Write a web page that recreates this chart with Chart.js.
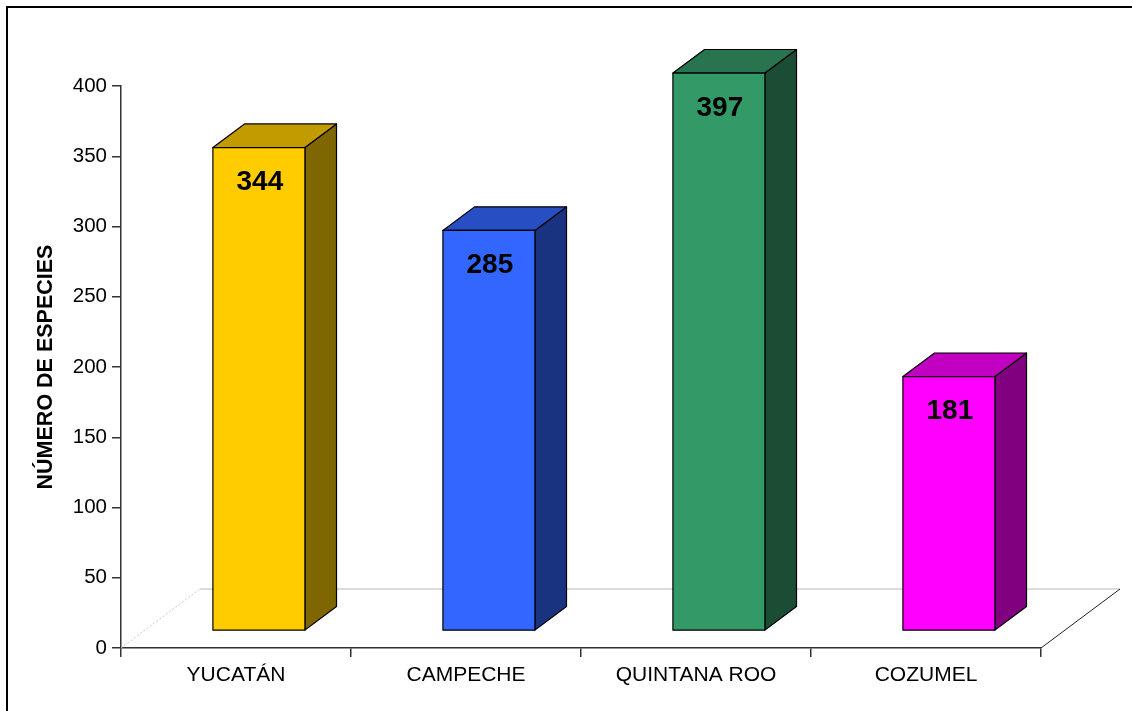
<!DOCTYPE html>
<html><head><meta charset="utf-8">
<script src="https://cdn.jsdelivr.net/npm/chart.js@4.4.1/dist/chart.umd.min.js"></script>
<style>html,body{margin:0;padding:0;background:#fff;}#wrap{width:1132px;height:711px;position:relative;}</style>
</head><body><div id="wrap"><canvas id="c" width="1132" height="711"></canvas></div>
<script>
const categories = ['YUCATÁN', 'CAMPECHE', 'QUINTANA ROO', 'COZUMEL'];
const especies = [344, 285, 397, 181];
const yTicks = [0, 50, 100, 150, 200, 250, 300, 350, 400];
const barColors = ['#FFCC00', '#3366FF', '#339966', '#FF00FF'];
const axisTitle = 'NÚMERO DE ESPECIES';

const FONT = "'Liberation Sans', Arial, sans-serif";
const FLOOR_DX = 79, FLOOR_DY = 59;
const BAR_FRONT = 0.29, BAR_BACK = 0.69;
const LABEL_OFFSET = 35;

function shade(hex, f) {
  const n = parseInt(hex.slice(1), 16);
  const r = Math.round(((n >> 16) & 255) * f), g = Math.round(((n >> 8) & 255) * f), b = Math.round((n & 255) * f);
  return `rgb(${r},${g},${b})`;
}

const bar3d = {
  id: 'bar3d',
  beforeDraw(chart) {
    const ctx = chart.ctx;
    ctx.save();
    ctx.fillStyle = '#fff';
    ctx.fillRect(0, 0, chart.width, chart.height);
    ctx.strokeStyle = '#000';
    ctx.lineWidth = 2;
    ctx.strokeRect(7, 7, chart.width + 20, chart.height + 20);
    ctx.restore();
  },
  beforeDatasetsDraw(chart) {
    const ctx = chart.ctx, a = chart.chartArea;
    const y0 = chart.scales.y.getPixelForValue(0);
    ctx.save();
    ctx.strokeStyle = '#d0d0d0'; ctx.lineWidth = 1.5;
    ctx.beginPath(); ctx.moveTo(a.left + FLOOR_DX, y0 - FLOOR_DY); ctx.lineTo(a.right + FLOOR_DX, y0 - FLOOR_DY); ctx.stroke();
    ctx.strokeStyle = '#c8c8c8'; ctx.lineWidth = 1; ctx.setLineDash([2, 2]);
    ctx.beginPath(); ctx.moveTo(a.left, y0); ctx.lineTo(a.left + FLOOR_DX, y0 - FLOOR_DY); ctx.stroke();
    ctx.setLineDash([]);
    ctx.strokeStyle = '#222'; ctx.lineWidth = 1;
    ctx.beginPath(); ctx.moveTo(a.right, y0); ctx.lineTo(a.right + FLOOR_DX, y0 - FLOOR_DY); ctx.stroke();
    ctx.restore();
  },
  afterDatasetsDraw(chart) {
    const ctx = chart.ctx;
    const meta = chart.getDatasetMeta(0);
    const ddx = FLOOR_DX * (BAR_BACK - BAR_FRONT), ddy = FLOOR_DY * (BAR_BACK - BAR_FRONT);
    ctx.save();
    ctx.lineWidth = 1.2; ctx.strokeStyle = '#000'; ctx.lineJoin = 'round';
    meta.data.forEach((bar, i) => {
      const w = bar.width;
      const L = bar.x - w / 2 + FLOOR_DX * BAR_FRONT;
      const R = L + w;
      const B = bar.base - FLOOR_DY * BAR_FRONT;
      const T = bar.y - FLOOR_DY * BAR_FRONT;
      const col = barColors[i];
      ctx.fillStyle = shade(col, 0.5);
      ctx.beginPath(); ctx.moveTo(R, T); ctx.lineTo(R + ddx, T - ddy); ctx.lineTo(R + ddx, B - ddy); ctx.lineTo(R, B); ctx.closePath(); ctx.fill(); ctx.stroke();
      ctx.fillStyle = shade(col, 0.76);
      ctx.beginPath(); ctx.moveTo(L, T); ctx.lineTo(L + ddx, T - ddy); ctx.lineTo(R + ddx, T - ddy); ctx.lineTo(R, T); ctx.closePath(); ctx.fill(); ctx.stroke();
      ctx.fillStyle = col;
      ctx.beginPath(); ctx.rect(L, T, w, B - T); ctx.fill(); ctx.stroke();
      ctx.fillStyle = '#000';
      ctx.font = `bold 28px ${FONT}`;
      ctx.textAlign = 'center'; ctx.textBaseline = 'middle';
      ctx.fillText(String(especies[i]), L + w / 2 + 1, T + LABEL_OFFSET);
    });
    ctx.restore();
  }
};

new Chart(document.getElementById('c'), {
  type: 'bar',
  data: {
    labels: categories,
    datasets: [{
      data: especies,
      backgroundColor: 'rgba(0,0,0,0)',
      borderWidth: 0,
      categoryPercentage: 1,
      barPercentage: 0.4
    }]
  },
  options: {
    responsive: false,
    animation: false,
    devicePixelRatio: 1,
    layout: { padding: { left: 0, top: 86, right: 91, bottom: 0 } },
    plugins: { legend: { display: false }, tooltip: { enabled: false }, title: { display: false } },
    scales: {
      x: {
        type: 'category',
        afterFit(s) { s.height = 63; },
        grid: { display: true, drawOnChartArea: false, drawTicks: true, tickLength: 9, color: '#333', lineWidth: 1.5, offset: true },
        border: { display: true, color: '#333', width: 1.5 },
        ticks: { color: '#000', font: { family: FONT, size: 21 }, padding: 6, maxRotation: 0, autoSkip: false }
      },
      y: {
        type: 'linear',
        min: 0, max: 400,
        afterFit(s) { s.width = 121; },
        afterBuildTicks(s) { s.ticks = yTicks.map(v => ({ value: v })); },
        grid: { display: true, drawOnChartArea: false, drawTicks: true, tickLength: 9, color: '#333', lineWidth: 1.5 },
        border: { display: true, color: '#333', width: 1.5 },
        ticks: { color: '#000', font: { family: FONT, size: 20.5 }, padding: 5 },
        title: { display: true, text: axisTitle, color: '#000', font: { family: FONT, size: 21.5, weight: 'bold' }, padding: { top: 33, bottom: 0 } }
      }
    }
  },
  plugins: [bar3d]
});
</script></body></html>
